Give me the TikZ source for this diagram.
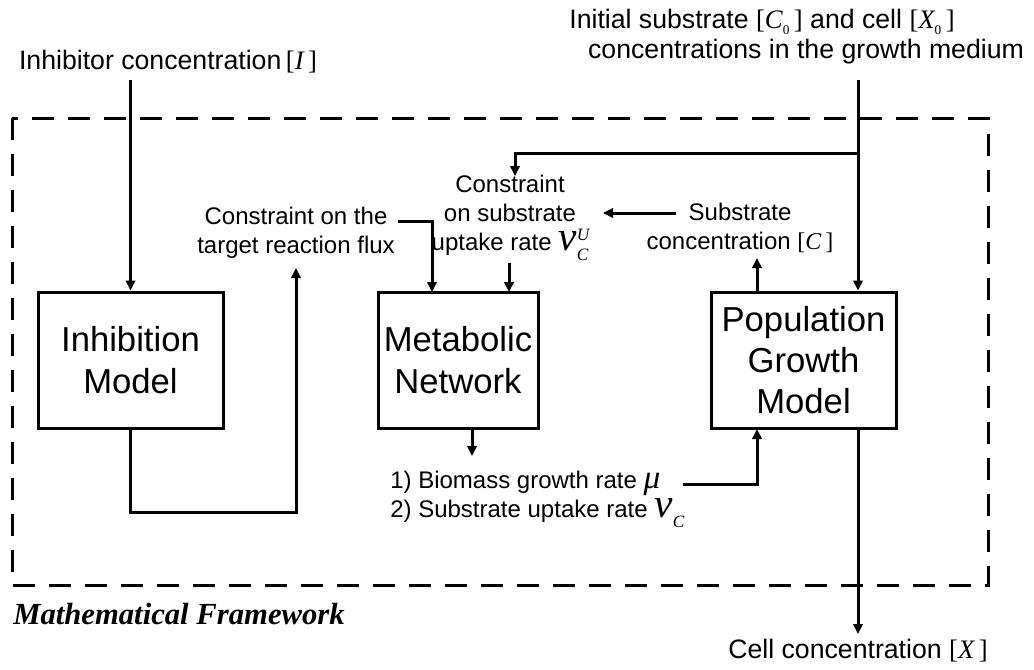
\documentclass[tikz,border=0pt]{standalone}
\usepackage{fontspec}
\setmainfont{Liberation Sans}
\newfontfamily\tms{Liberation Serif}
\usetikzlibrary{arrows.meta}
\newcommand{\ti}[1]{{\tms\itshape #1}}
\newcommand{\tu}[1]{{\tms #1}}
\newcommand{\sbr}[1]{\tu{[}\ti{#1}\tu{\,]}}
\newcommand{\zsub}{\raisebox{-0.4ex}{\tms\fontsize{10}{10}\selectfont 0}}
\newcommand{\vcu}{\ti{\fontsize{31}{31}\selectfont v}\makebox[0pt][l]{\raisebox{0.8ex}{\ti{\fontsize{13}{13}\selectfont U}}}\raisebox{-0.8ex}{\ti{\fontsize{13}{13}\selectfont C}}}
\newcommand{\vcc}{\ti{\fontsize{31}{31}\selectfont v}\raisebox{-0.8ex}{\ti{\fontsize{13}{13}\selectfont C}}}
\tikzset{
  box/.style={draw, line width=2.25pt, align=center, font=\fontsize{26}{31}\selectfont, inner sep=0pt},
  lbl/.style={align=center, font=\fontsize{20}{22.5}\selectfont, inner sep=0pt},
  lbls/.style={align=center, font=\fontsize{18}{21.75}\selectfont, inner sep=0pt},
  conn/.style={line width=2.25pt},
  arr/.style={conn, -{Triangle[length=7.5pt,width=7pt]}},
  frame/.style={line width=2.25pt, dash pattern=on 16.5pt off 10.5pt}
}
\begin{document}
\begin{tikzpicture}[x=0.75pt,y=-0.75pt]
\useasboundingbox (0,0) rectangle (1034,669);

% framework
\draw[frame] (12,118) rectangle (988,585);
\node[anchor=west, inner sep=0pt, font=\tms\bfseries\itshape\fontsize{23}{23}\selectfont] (mf) at (13,614) {Mathematical Framework};

% boxes
\node[box, minimum width=138.75pt, minimum height=102pt] (inh) at (130.5,360) {Inhibition\\Model};
\node[box, minimum width=120pt, minimum height=102pt] (met) at (458,360) {Metabolic\\Network};
\node[box, minimum width=138.75pt, minimum height=102pt] (pop) at (803.5,360) {Population\\Growth\\Model};

% labels
\node[lbl] (inhl) at (168,62) {Inhibitor concentration\,\sbr{I}};
\node[lbl] (initl1) at (762,22) {Initial substrate \tu{[}\ti{C}\zsub\tu{\,]} and cell \tu{[}\ti{X}\zsub\tu{\,]}};
\node[lbl] (initl2) at (806,52) {concentrations in the growth medium};
\node[lbls] (tgt) at (296,233) {Constraint on the\\target reaction flux};
\node[lbls] (subc) at (510,218) {Constraint\\on substrate\\uptake rate \vcu};
\node[lbls] (conc) at (740,228) {Substrate\\concentration \sbr{C}};
\node[lbls, align=left, anchor=west] (bio) at (390,499) {1) Biomass growth rate \ti{\fontsize{25}{25}\selectfont μ}\\2) Substrate uptake rate \vcc};
\node[lbl] (cell) at (858,651) {Cell concentration \sbr{X}};

% coordinates
\coordinate (inhIn) at (130.5,80);
\coordinate (fb) at (296,512);
\coordinate (fbTip) at (296,268);
\coordinate (tgtOut) at (398,221);
\coordinate (metIn1) at (432,292);
\coordinate (subcOut) at (509,263);
\coordinate (metIn2) at (509,292);
\coordinate (initIn) at (858,80);
\coordinate (branch) at (858,153);
\coordinate (subcIn) at (515,176);
\coordinate (concOut) at (676,213);
\coordinate (concTip) at (603,213);
\coordinate (popUp) at (757,292);
\coordinate (concIn) at (757,258);
\coordinate (metOut) at (472,428);
\coordinate (bioTip) at (472,456);
\coordinate (bioOut) at (683,484);
\coordinate (popIn) at (757,429);
\coordinate (popOut) at (858,429);
\coordinate (cellTip) at (858,634);

% connectors
\draw[arr] (inhIn) -- (inh.north);
\draw[arr] (inh.south) |- (fb) -- (fbTip);
\draw[arr] (tgtOut) -| (metIn1);
\draw[arr] (subcOut) -- (metIn2);
\draw[arr] (initIn) -- (initIn |- pop.north);
\draw[arr] (branch) -| (subcIn);
\draw[arr] (concOut) -- (concTip);
\draw[arr] (popUp) -- (concIn);
\draw[arr] (metOut) -- (bioTip);
\draw[arr] (bioOut) -| (popIn);
\draw[arr] (popOut) -- (cellTip);
\end{tikzpicture}
\end{document}
